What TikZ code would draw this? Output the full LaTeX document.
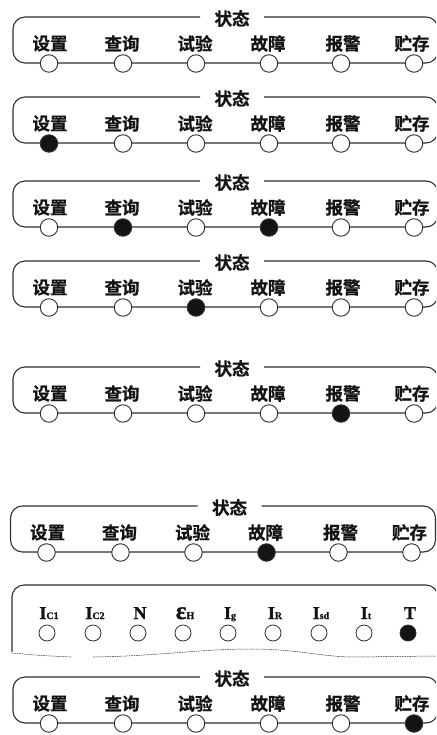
\documentclass[tikz,border=0pt]{standalone}
\usepackage{fontspec}
\setmainfont{Liberation Serif}
\newfontfamily\cjk{Noto Sans CJK SC Bold}[FakeBold=0.8]
\newfontfamily\heavyserif{Liberation Serif Bold}[FakeBold=1.2]
\definecolor{ln}{HTML}{303030}
\definecolor{on}{HTML}{141414}
\newcommand\lsub[1]{{\fontsize{10}{10}\selectfont #1}}
\tikzset{
  frame/.style={draw=ln, line width=1.1pt, rounded corners=12pt},
  lamp/.style={circle, draw=ln, line width=0.9pt, minimum size=17.5pt, inner sep=0pt},
  smalllamp/.style={circle, draw=ln, line width=0.8pt, minimum size=16pt, inner sep=0pt, fill=white},
  cjklbl/.style={font=\cjk\fontsize{17.5}{17.5}\selectfont, inner sep=0pt, text=on},
  titlelbl/.style={font=\cjk\fontsize{17.5}{17.5}\selectfont, inner sep=0pt, text=on},
  latlbl/.style={font=\heavyserif\fontsize{18}{18}\selectfont, inner sep=0pt, anchor=base, text=on},
  wave/.style={draw=ln, line width=0.5pt, dash pattern=on 1.6pt off 0.8pt},
}
\newcommand\StatusPanel[9]{%
  \begin{scope}[shift={(#3,#2)}]
    \node[titlelbl] (#1-t) at (232,1.5) {状态};
    \draw[frame] (200,0) -- (13,0) -- (13,46) -- (438,46) -- (438,0) -- (264,0);
    \foreach \cx/\lx/\lab/\col [count=\i] in {49/50/设置/#4, 123/122/查询/#5, 196/195/试验/#6, 269/268/故障/#7, 341/343/报警/#8, 414/412/贮存/#9}{
      \node[cjklbl] (#1-l\i) at (\lx,26.5) {\lab};
      \node[lamp, fill=\col] (#1-c\i) at (\cx,46.5) {};
    }
  \end{scope}}
\begin{document}
\begin{tikzpicture}[x=1pt, y=-1pt]
\useasboundingbox (0,0) rectangle (436,735);
\clip (0,0) rectangle (436,735);
\StatusPanel{pa}{17}{0}{white}{white}{white}{white}{white}{white}
\StatusPanel{pb}{97}{0}{on}{white}{white}{white}{white}{white}
\StatusPanel{pc}{181}{0}{white}{on}{white}{on}{white}{white}
\StatusPanel{pd}{261}{0}{white}{white}{on}{white}{white}{white}
\StatusPanel{pe}{367}{0}{white}{white}{white}{white}{on}{white}
\StatusPanel{pf}{506}{-2.5}{white}{white}{white}{on}{white}{white}
\StatusPanel{ph}{677}{0}{white}{white}{white}{white}{white}{on}
% measurement panel
\draw[frame] (12,652) -- (12,585) -- (438,585) -- (438,652);
\foreach \cx/\lab/\col [count=\i] in {47/{I\lsub{C1}}/white, 93/{I\lsub{C2}}/white, 138/{N}/white, 183/{{\fontsize{25}{25}\selectfont ε}\lsub{H}}/white, 228/{I\lsub{g}}/white, 273/{I\lsub{R}}/white, 319/{I\lsub{sd}}/white, 364/{I\lsub{t}}/white, 408/{T}/on}{
  \node[latlbl] (m-l\i) at (\cx+2,619) {\lab};
  \node[smalllamp, fill=\col] (m-c\i) at (\cx,633) {};
}
\coordinate (w1) at (12,653);
\coordinate (w2) at (72,657);
\coordinate (w3) at (93,657);
\coordinate (w4) at (250,649);
\coordinate (w5) at (355,657);
\coordinate (w6) at (436,656);
\draw[wave] (w1) .. controls (40,655.5) .. (w2);
\draw[wave] (w3) .. controls (160,656) and (200,649) .. (w4) .. controls (300,649) and (320,657) .. (w5) -- (w6);
\end{tikzpicture}
\end{document}
